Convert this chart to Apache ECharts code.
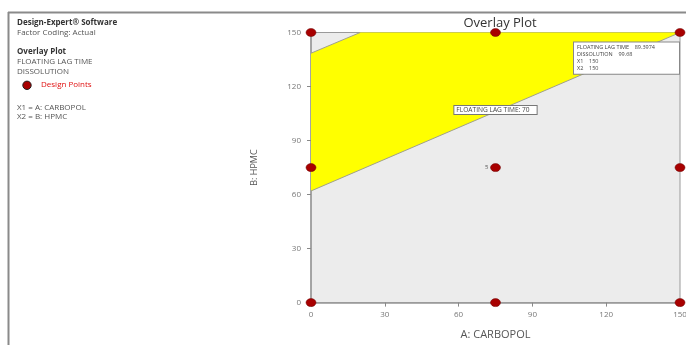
<!DOCTYPE html>
<html>
<head>
<meta charset="utf-8">
<script src="https://cdn.jsdelivr.net/npm/echarts@6/dist/echarts.min.js"></script>
<style>
  html, body { margin: 0; padding: 0; background: #fff; }
  #chart { width: 686px; height: 345px; }
</style>
</head>
<body>
<div id="chart"></div>
<script>
// Axis ticks (A: CARBOPOL, B: HPMC)
const xTicks = [0, 30, 60, 90, 120, 150];
const yTicks = [0, 30, 60, 90, 120, 150];

// Design points of the 3x3 factorial, [A, B]
const designPoints = [
  [0, 0], [75, 0], [150, 0],
  [0, 75], [75, 75], [150, 75],
  [0, 150], [75, 150], [150, 150]
];
// Replicate count shown next to the centre point
const centrePoint = [75, 75];
const centreReplicates = 5;

// Yellow region satisfying both criteria, boundary vertices [A, B]
const feasibleRegion = [[0, 62], [150, 150], [20, 150], [0, 138.5]];
// Lower contour (FLOATING LAG TIME = 70) and upper boundary
const lagTimeContour = [[0, 62], [150, 150]];
const upperContour = [[0, 138.5], [20, 150]];
const contourLabelAt = [75, 107];
const contourLabelText = 'FLOATING LAG TIME: 70';

// Flag at the selected point
const flagPoint = [150, 150];
const flagRows = [
  ['FLOATING LAG TIME', '89.3974'],
  ['DISSOLUTION', '99.68'],
  ['X1', '150'],
  ['X2', '150']
];

const FONT = '"Open Sans", "DejaVu Sans", sans-serif';
const chart = echarts.init(document.getElementById('chart'));

const flagText = flagRows.map(r => '{r|' + r[0] + '    ' + r[1] + '}').join('\n');

const option = {
  animation: false,
  grid: {
    left: 311, right: 6, top: 32.5, bottom: 42.4,
    outerBoundsMode: 'none', containLabel: false,
    show: true, backgroundColor: '#ececec', borderColor: '#9a9a9a', borderWidth: 1
  },
  title: {
    text: 'Overlay Plot', left: 495, top: 12, textAlign: 'center',
    textStyle: { fontFamily: FONT, fontSize: 13, fontWeight: 'normal', color: '#333' }
  },
  xAxis: {
    type: 'value', min: 0, max: 150, interval: 30,
    name: 'A: CARBOPOL', nameLocation: 'middle', nameGap: 27,
    nameTextStyle: { fontFamily: FONT, fontSize: 11, color: '#555' },
    axisLine: { show: true, onZero: false, lineStyle: { color: '#999', width: 1.5 } },
    axisTick: { show: true, length: 4, lineStyle: { color: '#888' } },
    axisLabel: { fontFamily: FONT, fontSize: 8, color: '#777', margin: 8,
      formatter: v => xTicks.includes(v) ? String(v) : '' },
    splitLine: { show: false }
  },
  yAxis: {
    type: 'value', min: 0, max: 150, interval: 30,
    name: 'B: HPMC', nameLocation: 'middle', nameGap: 52, nameRotate: 90,
    nameTextStyle: { fontFamily: FONT, fontSize: 9, color: '#555' },
    axisLine: { show: true, onZero: false, lineStyle: { color: '#999', width: 1.5 } },
    axisTick: { show: true, length: 4, lineStyle: { color: '#888' } },
    axisLabel: { fontFamily: FONT, fontSize: 8, color: '#777', margin: 10,
      formatter: v => yTicks.includes(v) ? String(v) : '' },
    splitLine: { show: false }
  },
  series: [
    {
      type: 'custom',
      name: 'region',
      silent: true,
      data: [0],
      z: 1,
      renderItem: (params, api) => ({
        type: 'polygon',
        shape: { points: feasibleRegion.map(p => api.coord(p)) },
        style: { fill: '#ffff00', stroke: 'none' }
      })
    },
    {
      type: 'line', data: lagTimeContour, symbol: 'none', silent: true, z: 2,
      lineStyle: { color: '#a0a08a', width: 1 }
    },
    {
      type: 'line', data: upperContour, symbol: 'none', silent: true, z: 2,
      lineStyle: { color: '#a0a08a', width: 1 }
    },
    {
      type: 'scatter', data: [contourLabelAt], symbolSize: 0, silent: true, z: 5,
      itemStyle: { opacity: 1 },
      label: {
        show: true, position: 'inside', formatter: contourLabelText,
        fontFamily: FONT, fontSize: 6.6, color: '#444',
        backgroundColor: '#fff', borderColor: '#777', borderWidth: 1,
        padding: [1, 7, 0, 2]
      }
    },
    {
      type: 'scatter', data: designPoints, symbolSize: [10, 8], z: 4, clip: false,
      itemStyle: { color: '#a80000', borderColor: '#6a0000', borderWidth: 0.5, opacity: 1 }
    },
    {
      type: 'scatter', data: [centrePoint], symbolSize: 0, silent: true, z: 4,
      itemStyle: { opacity: 1 },
      label: { show: true, position: 'left', distance: 7, formatter: String(centreReplicates),
        fontFamily: FONT, fontSize: 6, color: '#555' }
    },
    {
      type: 'scatter', data: [flagPoint], symbolSize: 0, silent: true, z: 6,
      itemStyle: { opacity: 1 },
      label: {
        show: true, position: [-1, 10], align: 'right', verticalAlign: 'top',
        formatter: flagText,
        backgroundColor: '#ffffff', borderColor: '#888', borderWidth: 1,
        padding: [2, 2, 2, 3],
        rich: {
          r: { fontFamily: FONT, fontSize: 5.5, color: '#444', lineHeight: 6.8, width: 100, align: 'left' }
        }
      }
    }
  ],
  graphic: [
    // panel frame
    { type: 'line', shape: { x1: 8, y1: 12.5, x2: 686, y2: 12.5 }, style: { stroke: '#8a8a8a', lineWidth: 2 } },
    { type: 'line', shape: { x1: 8.5, y1: 12, x2: 8.5, y2: 345 }, style: { stroke: '#8a8a8a', lineWidth: 2 } },
    { type: 'text', left: 17, top: 18.5, style: { text: 'Design-Expert® Software', font: 'bold 8px ' + FONT, fill: '#333' } },
    { type: 'text', left: 17, top: 28.5, style: { text: 'Factor Coding: Actual', font: '8px ' + FONT, fill: '#555' } },
    { type: 'text', left: 17, top: 47.5, style: { text: 'Overlay Plot', font: 'bold 8px ' + FONT, fill: '#333' } },
    { type: 'text', left: 17, top: 57.5, style: { text: 'FLOATING LAG TIME', font: '8px ' + FONT, fill: '#555' } },
    { type: 'text', left: 17, top: 67.5, style: { text: 'DISSOLUTION', font: '8px ' + FONT, fill: '#555' } },
    { type: 'circle', shape: { cx: 27, cy: 85.3, r: 4.2 }, style: { fill: '#a80000', stroke: '#222', lineWidth: 1 } },
    { type: 'text', left: 41, top: 80.5, style: { text: 'Design Points', font: '8px ' + FONT, fill: '#e01010' } },
    { type: 'text', left: 17, top: 103.5, style: { text: 'X1 = A: CARBOPOL', font: '8px ' + FONT, fill: '#555' } },
    { type: 'text', left: 17, top: 113, style: { text: 'X2 = B: HPMC', font: '8px ' + FONT, fill: '#555' } }
  ]
};

chart.setOption(option);
</script>
</body>
</html>
